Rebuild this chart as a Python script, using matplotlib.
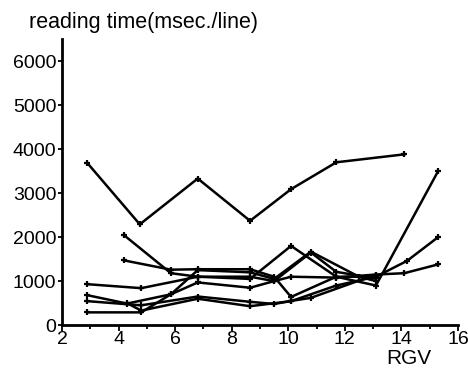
import matplotlib
matplotlib.use("Agg")
import matplotlib.pyplot as plt
from matplotlib.ticker import MultipleLocator

# --- reading time per line vs RGV, one line per subject ---
x_a = [2.9, 4.75, 6.8, 8.65, 10.1, 11.7, 14.1]
y_a = [3680, 2290, 3330, 2370, 3090, 3700, 3880]

x_b = [4.2, 5.85, 6.8, 8.65, 10.1, 11.7, 13.1, 15.3]
y_b = [2040, 1180, 1100, 1050, 1800, 1100, 900, 3500]

x_c = [4.2, 5.85, 6.8, 8.65, 9.5, 10.1, 11.7, 13.1, 14.2, 15.3]
y_c = [1470, 1260, 1270, 1270, 1100, 640, 1100, 1100, 1460, 2000]

x_d = [2.9, 4.8, 6.8, 8.65, 9.5, 10.1, 11.7, 13.1, 14.1, 15.3]
y_d = [930, 840, 1100, 1100, 1000, 1100, 1080, 1150, 1180, 1380]

x_e = [2.9, 4.3, 5.85, 6.8, 8.65, 9.5, 10.8, 12.5, 13.1]
y_e = [680, 490, 700, 1250, 1200, 1050, 1670, 1100, 1000]

x_f = [2.9, 4.8, 6.8, 8.65, 9.5, 10.1, 10.8, 13.1]
y_f = [545, 450, 650, 530, 480, 550, 620, 1150]

x_g = [2.9, 4.8, 5.85, 6.8, 8.65, 9.5, 10.8, 11.7, 13.1]
y_g = [290, 290, 700, 970, 850, 1000, 1650, 1210, 1060]

x_h = [4.3, 4.8, 6.8, 8.65, 10.1, 11.7, 13.1]
y_h = [500, 330, 600, 430, 545, 900, 1100]

series = [(x_a, y_a), (x_b, y_b), (x_c, y_c), (x_d, y_d),
          (x_e, y_e), (x_f, y_f), (x_g, y_g), (x_h, y_h)]

plt.rcParams['font.family'] = ['Liberation Sans', 'DejaVu Sans']

fig = plt.figure(figsize=(4.68, 3.72), dpi=100)
ax = fig.add_axes([0.1325, 0.126, 0.846, 0.769])

for xs, ys in series:
    ax.plot(xs, ys, color='black', lw=1.8, marker='+', markersize=5,
            markeredgewidth=1.6)

ax.set_xlim(2, 16)
ax.set_ylim(0, 6500)
ax.xaxis.set_major_locator(MultipleLocator(2))
ax.xaxis.set_minor_locator(MultipleLocator(1))
ax.set_yticks([0, 1000, 2000, 3000, 4000, 5000, 6000])

for side in ['top', 'right']:
    ax.spines[side].set_visible(False)
for side in ['left', 'bottom']:
    ax.spines[side].set_linewidth(2)

ax.tick_params(axis='x', which='major', length=4, width=1.3, direction='out',
               labelsize=14, pad=0)
ax.tick_params(axis='x', which='minor', length=3, width=1.3, direction='out')
ax.tick_params(axis='y', length=3, width=1.3, direction='out', labelsize=14, pad=1)

fig.text(0.062, 0.94, "reading time(msec./line)", fontsize=15.5, ha='left', va='center')
fig.text(0.873, 0.035, "RGV", fontsize=15, ha='center', va='center')

fig.savefig("out.png", dpi=100)
